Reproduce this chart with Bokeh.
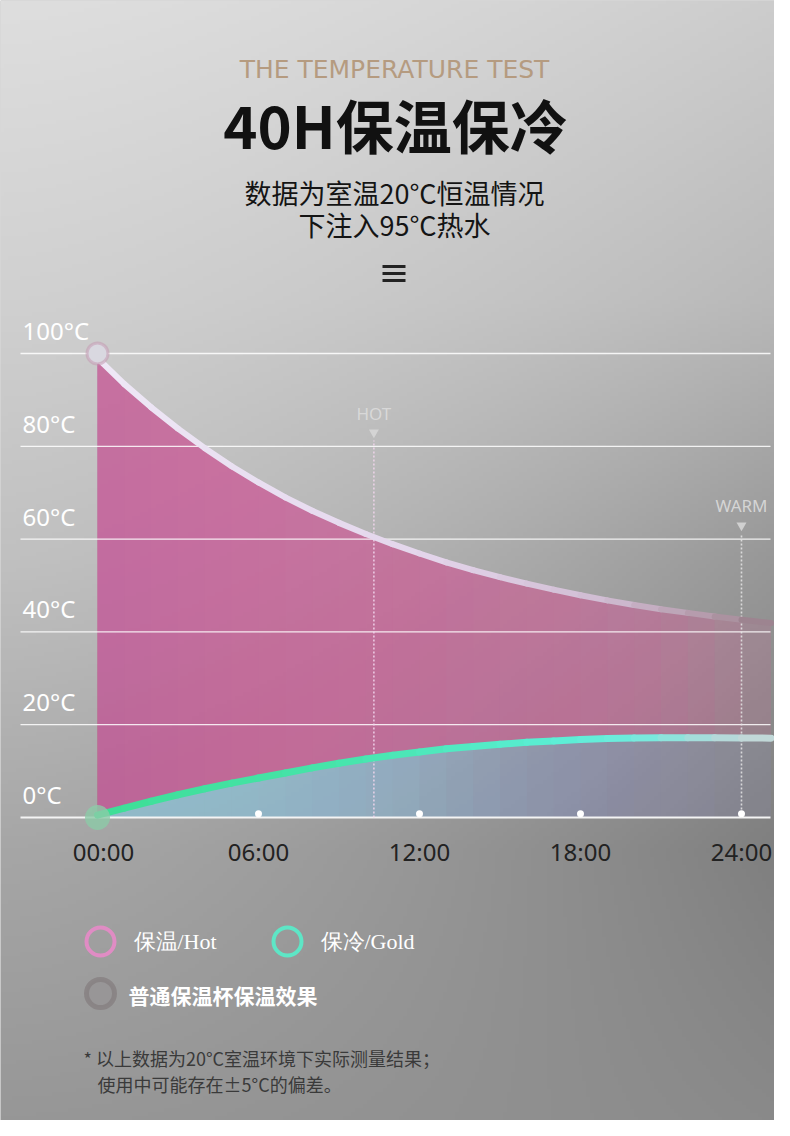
import numpy as np
from bokeh.plotting import figure
from bokeh.models import Range1d
from bokeh.core.properties import value
from bokeh.embed import file_html
from bokeh.resources import INLINE

# ---------------- data ----------------
hours = [0, 1, 2, 3, 4, 5, 6, 7, 8, 9, 10, 11, 12, 13, 14, 15, 16, 17, 18,
         19, 20, 21, 22, 23, 24, 25.1]
hot_temp = [99.0, 93.4, 88.4, 83.8, 79.6, 75.7, 72.2, 69.0, 66.1, 63.5, 61.1, 58.9,
            56.9, 55.0, 53.3, 51.8, 50.4, 49.1, 47.9, 46.8, 45.8, 44.9, 44.1, 43.3,
            42.6, 41.9]
cold_temp = [0.5, 2.0, 3.5, 4.9, 6.2, 7.4, 8.5, 9.6, 10.7, 11.7, 12.6, 13.4, 14.1,
             14.8, 15.3, 15.8, 16.2, 16.5, 16.8, 17.0, 17.15, 17.2, 17.2, 17.2,
             17.15, 17.1]

y_ticks = [0, 20, 40, 60, 80, 100]
y_tick_labels = ["0°C", "20°C", "40°C", "60°C", "80°C", "100°C"]
x_ticks = [0, 6, 12, 18, 24]
x_tick_labels = ["00:00", "06:00", "12:00", "18:00", "24:00"]
tick_dots = [6, 12, 18, 24]

hot_marker_hour = 10.3
warm_marker_hour = 24
hot_marker_label = "HOT"
warm_marker_label = "WARM"

kicker = "THE TEMPERATURE TEST"
title = "40H保温保冷"
subtitle = ["数据为室温20°C恒温情况", "下注入95°C热水"]
legend_labels = ["保温/Hot", "保冷/Gold", "普通保温杯保温效果"]
notes = ["* 以上数据为20°C室温环境下实际测量结果；", "使用中可能存在±5°C的偏差。"]

# ---------------- geometry helpers (reference pixel -> data) ----------------
X0, PXH = 97.0, 26.833   # px of hour 0, px per hour
Y0, PXT = 817.0, 4.64    # px of 0 degC, px per degC
W, H = 774, 1120
OFF = 0


def hx(px):
    return (px - X0) / PXH


def ty(py):
    return (Y0 - py) / PXT


p = figure(width=W, height=H, output_backend="svg", toolbar_location=None,
           x_range=Range1d(hx(OFF), hx(OFF + W)), y_range=Range1d(ty(OFF + H), ty(OFF)),
           x_axis_type=None, y_axis_type=None, min_border=0)
p.grid.visible = False
p.outline_line_color = None
p.background_fill_color = "#b0b0b0"
p.border_fill_color = "#b0b0b0"

# ---------------- background gradient ----------------
nh, nw = 280, 194
yy = np.linspace(OFF, OFF + H, nh)[:, None]
xx = np.linspace(OFF, OFF + W, nw)[None, :]
vert = np.interp(yy, [0, 300, 560, 850, 1136], [222, 208, 192, 166, 150])
dark = np.interp(yy, [0, 300, 560, 850, 1136], [18, 24, 42, 40, 12])
g = vert - dark * (xx / 790.0) ** 1.5
g = np.clip(g, 0, 255).astype(np.uint32)
img = np.empty((nh, nw), dtype=np.uint32)
view = img.view(dtype=np.uint8).reshape((nh, nw, 4))
view[:, :, 0] = g
view[:, :, 1] = g
view[:, :, 2] = g
view[:, :, 3] = 255
img = img[::-1]
p.image_rgba(image=[img], x=hx(OFF), y=ty(OFF + H), dw=W / PXH, dh=H / PXT)


def lerp_color(stops, t):
    for (t0, c0), (t1, c1) in zip(stops[:-1], stops[1:]):
        if t <= t1:
            f = 0 if t1 == t0 else (t - t0) / (t1 - t0)
            f = min(max(f, 0), 1)
            c = [int(round(a + (b - a) * f)) for a, b in zip(c0, c1)]
            return "#%02x%02x%02x" % tuple(c)
    return "#%02x%02x%02x" % stops[-1][1]


def stacked_fill(lower, upper, alpha_stops, color):
    """Layers covering [0, hours[k]] so that opacity fades smoothly to the right."""
    n = len(hours)
    mids = [0.5 * (hours[j] + hours[j + 1]) for j in range(n - 1)]
    A = [float(np.interp(m, alpha_stops[0], alpha_stops[1])) for m in mids]
    T = [max(1 - a, 1e-3) for a in A]
    layers = [(n - 1, 1 - T[n - 2])]
    for k in range(n - 2, 0, -1):
        layers.append((k, max(1 - T[k - 1] / T[k], 0.0)))
    for k, a in layers:
        if a <= 0.002:
            continue
        p.varea(x=hours[:k + 1], y1=lower[:k + 1], y2=upper[:k + 1],
                fill_color=color, fill_alpha=a)


zeros = [0] * len(hours)
stacked_fill(cold_temp, hot_temp,
             ([0, 6, 12, 18, 21, 23, 25.1], [0.74, 0.72, 0.66, 0.56, 0.46, 0.32, 0.12]),
             "#d45c98")
stacked_fill(zeros, cold_temp,
             ([0, 12, 18, 22, 25.1], [0.4, 0.42, 0.42, 0.3, 0.1]), "#8c8cc4")
stacked_fill(zeros, cold_temp,
             ([0, 6, 11, 16, 20], [0.6, 0.55, 0.4, 0.12, 0.0]), "#92d8e4")

# ---------------- grid lines ----------------
gx0, gx1 = hx(20), hx(770)
p.segment(x0=[gx0] * 5, x1=[gx1] * 5, y0=y_ticks[1:], y1=y_ticks[1:],
          line_color="#ffffff", line_width=1.3, line_alpha=0.85)
p.segment(x0=[gx0], x1=[gx1], y0=[0], y1=[0], line_color="#f4f4f4", line_width=2.2)

# ---------------- HOT / WARM markers ----------------
p.segment(x0=[hot_marker_hour], x1=[hot_marker_hour], y0=[0], y1=[ty(440)],
          line_color="#f2d6ec", line_width=1.6, line_dash="2 2", line_alpha=0.85)
p.segment(x0=[warm_marker_hour], x1=[warm_marker_hour], y0=[0], y1=[ty(535)],
          line_color="#e6e6e6", line_width=1.6, line_dash="2 2", line_alpha=0.85)
p.scatter(x=[hot_marker_hour, warm_marker_hour], y=[ty(432), ty(525)],
          marker="inverted_triangle", size=10, fill_color="#d8d8d8", line_color=None,
          fill_alpha=0.85)
p.text(x=[hot_marker_hour, warm_marker_hour], y=[ty(413), ty(505)],
       text=[hot_marker_label, warm_marker_label], text_font=value("Noto Sans"),
       text_font_size="17px", text_color="#dcdcdc", text_alpha=0.9,
       text_align="center", text_baseline="middle")

# ---------------- curves ----------------
hx_seg, hy_seg, hcol = [], [], []
cx_seg, cy_seg, ccol = [], [], []
for i in range(len(hours) - 1):
    hm = 0.5 * (hours[i] + hours[i + 1])
    hx_seg.append([hours[i], hours[i + 1]])
    hy_seg.append([hot_temp[i], hot_temp[i + 1]])
    hcol.append(lerp_color([(0, (238, 232, 246)), (12, (228, 214, 236)),
                            (19, (208, 188, 210)), (23, (178, 152, 168)),
                            (25.1, (150, 125, 135))], hm))
    cx_seg.append([hours[i], hours[i + 1]])
    cy_seg.append([cold_temp[i], cold_temp[i + 1]])
    ccol.append(lerp_color([(0, (62, 222, 150)), (9, (70, 228, 170)),
                            (17, (90, 238, 212)), (20, (110, 236, 222)),
                            (23, (175, 218, 218)), (25.1, (200, 215, 215))], hm))
p.multi_line(xs=hx_seg, ys=hy_seg, line_color=hcol, line_width=6, line_cap="round",
             line_join="round")
p.multi_line(xs=cx_seg, ys=cy_seg, line_color=ccol, line_width=7, line_cap="round",
             line_join="round")

# start points
p.scatter(x=[hours[0]], y=[100], size=21, fill_color="#d9d8e0",
          line_color="#c59ab2", line_width=3, line_alpha=0.55)
p.scatter(x=[hours[0]], y=[0], size=25, fill_color="#8ccaa8", fill_alpha=0.8,
          line_color=None)

# tick dots
p.scatter(x=tick_dots, y=[0.8] * len(tick_dots), size=7, fill_color="#ffffff",
          line_color=None)

# ---------------- axis labels ----------------
p.text(x=[hx(22)] * len(y_ticks), y=y_ticks, text=y_tick_labels, y_offset=-23,
       text_font=value("Noto Sans"), text_font_size="24px", text_color="#ffffff",
       text_align="left", text_baseline="middle")
p.text(x=x_ticks[:1], y=[0], text=x_tick_labels[:1], y_offset=34, x_offset=6,
       text_font=value("Noto Sans"), text_font_size="24px", text_color="#222222",
       text_align="center", text_baseline="middle")
p.text(x=x_ticks[1:], y=[0] * (len(x_ticks) - 1), text=x_tick_labels[1:], y_offset=34,
       text_font=value("Noto Sans"), text_font_size="24px", text_color="#222222",
       text_align="center", text_baseline="middle")

# ---------------- titles ----------------
p.text(x=[hx(394)], y=[ty(69)], text=[kicker], text_font=value("DejaVu Sans"),
       text_font_size="25px", text_color="#b59b80", text_align="center",
       text_baseline="middle")
p.text(x=[hx(395)], y=[ty(123)], text=[title], text_font=value("Noto Sans CJK SC"),
       text_font_size="58px", text_font_style="bold", text_color="#111111",
       text_align="center", text_baseline="middle")
p.text(x=[hx(394), hx(394)], y=[ty(192), ty(224)], text=subtitle,
       text_font=value("Noto Sans CJK SC"), text_font_size="27px",
       text_color="#141414", text_align="center", text_baseline="middle")
# menu icon
p.segment(x0=[hx(382)] * 3, x1=[hx(405)] * 3, y0=[ty(266), ty(273), ty(280)],
          y1=[ty(266), ty(273), ty(280)], line_color="#222222", line_width=3)

# ---------------- legend ----------------
p.scatter(x=[hx(100)], y=[ty(941)], size=28, fill_color=None,
          line_color="#e08cc4", line_width=4)
p.scatter(x=[hx(287)], y=[ty(941)], size=28, fill_color=None,
          line_color="#5ee6c6", line_width=4)
p.scatter(x=[hx(100)], y=[ty(993)], size=28, fill_color="#8a8486", fill_alpha=0.25,
          line_color="#837c7e", line_width=5, line_alpha=0.7)
p.text(x=[hx(133), hx(320)], y=[ty(941), ty(941)], text=legend_labels[:2],
       text_font=value("Liberation Serif"), text_font_size="22px",
       text_color="#ffffff", text_align="left", text_baseline="middle")
p.text(x=[hx(128)], y=[ty(994)], text=[legend_labels[2]],
       text_font=value("Noto Sans CJK SC"), text_font_size="21px",
       text_font_style="bold", text_color="#ffffff", text_align="left",
       text_baseline="middle")

# ---------------- notes ----------------
p.text(x=[hx(83), hx(97)], y=[ty(1057), ty(1083)], text=notes,
       text_font=value("Noto Sans CJK SC"), text_font_size="18px",
       text_color="#3a3a3a", text_align="left", text_baseline="middle")

open("out.html", "w").write(file_html(p, INLINE))
